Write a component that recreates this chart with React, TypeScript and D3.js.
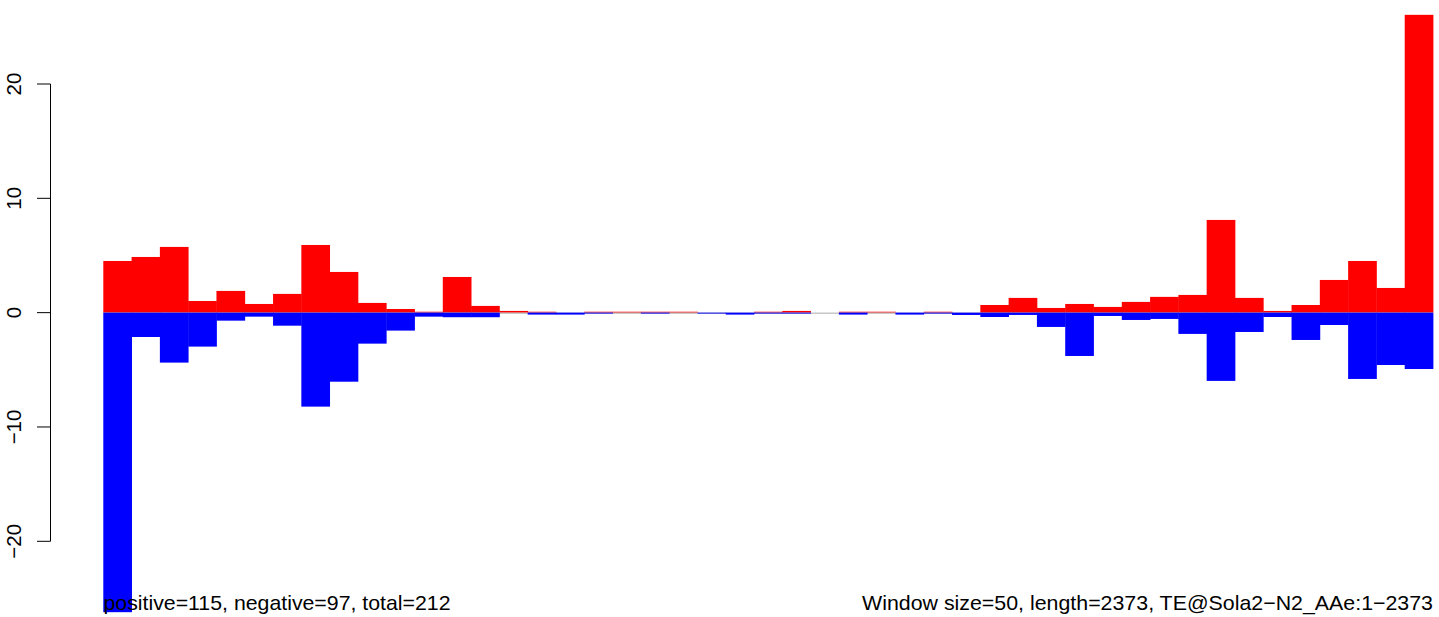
import React from 'react';
import * as d3 from 'd3';

// window values (47 windows of 50 bp)
const positiveValues = [
  4.52, 4.87, 5.75, 1.02, 1.9, 0.76, 1.64, 5.92, 3.56, 0.85, 0.32, 0.08, 3.12, 0.59, 0.15, 0.08,
  0, 0.08, 0.08, 0.08, 0.08, 0, 0, 0.08, 0.15, 0, 0.08, 0.08, 0, 0.08, 0, 0.67,
  1.29, 0.41, 0.76, 0.5, 0.94, 1.38, 1.55, 8.11, 1.29, 0.15, 0.67, 2.86, 4.52, 2.16, 26.05,
];
const negativeValues = [
  -26.2, -2.13, -4.37, -2.97, -0.7, -0.35, -1.14, -8.22, -6.04, -2.71, -1.57, -0.35, -0.4, -0.4, 0, -0.17,
  -0.17, -0.08, 0, -0.08, 0, -0.08, -0.17, -0.08, -0.08, 0, -0.17, 0, -0.17, -0.08, -0.2, -0.38,
  -0.2, -1.25, -3.79, -0.29, -0.64, -0.55, -1.86, -5.97, -1.69, -0.38, -2.39, -1.08, -5.8, -4.58, -4.93,
];
const yTicks = [-20, -10, 0, 10, 20];
const leftNote = 'positive=115, negative=97, total=212';
const rightNote = 'Window size=50, length=2373, TE@Sola2\u2212N2_AAe:1\u22122373';

const W = 1439;
const H = 617;
const font = '"Liberation Sans", Arial, Helvetica, sans-serif';

const App: React.FC = () => {
  const idx = d3.range(positiveValues.length);

  const x = d3.scaleBand<number>().domain(idx).range([103.3, 1433]).padding(0);
  const y = d3.scaleLinear().domain([-20, 20]).range([541.3, 84]);
  const y0 = y(0);
  const axisX = 50.5;

  const fmt = (v: number) => (v < 0 ? '\u2212' + Math.abs(v) : String(v));

  return (
    <div style={{ position: 'absolute', left: 0, top: 0 }}>
      <svg width={W} height={H} style={{ display: 'block', background: '#fff' }}>
        {/* red bars (positive strand) */}
        {idx.map((i) => (
          <rect
            key={'p' + i}
            x={x(i)}
            y={y(positiveValues[i])}
            width={x.bandwidth() + 0.4}
            height={y0 - y(positiveValues[i])}
            fill="#ff0000"
          />
        ))}
        {/* zero line */}
        <line x1={x(0)} x2={1433} y1={y0 + 0.5} y2={y0 + 0.5} stroke="#aaaaaa" strokeWidth={1} />
        {/* blue bars (negative strand) */}
        {idx.map((i) => (
          <rect
            key={'n' + i}
            x={x(i)}
            y={y0}
            width={x.bandwidth() + 0.4}
            height={y(negativeValues[i]) - y0}
            fill="#0000ff"
          />
        ))}

        {/* y axis */}
        <g stroke="#000" strokeWidth={1}>
          <line x1={axisX} x2={axisX} y1={y(20)} y2={y(-20)} />
          {yTicks.map((t) => (
            <line key={t} x1={37} x2={axisX} y1={y(t)} y2={y(t)} />
          ))}
        </g>
        {yTicks.map((t) => (
          <text
            key={'l' + t}
            transform={`translate(20.5,${y(t)}) rotate(-90)`}
            textAnchor="middle"
            fontFamily={font}
            fontSize={20.5}
            fill="#000"
          >
            {fmt(t)}
          </text>
        ))}

        <text
          x={103.5}
          y={610}
          fontFamily={font}
          fontSize={21}
          fill="#000"
          textLength={347}
          lengthAdjust="spacingAndGlyphs"
        >
          {leftNote}
        </text>
        <text
          x={862}
          y={610}
          fontFamily={font}
          fontSize={21}
          fill="#000"
          textLength={571}
          lengthAdjust="spacingAndGlyphs"
        >
          {rightNote}
        </text>
      </svg>
    </div>
  );
};

export default App;
